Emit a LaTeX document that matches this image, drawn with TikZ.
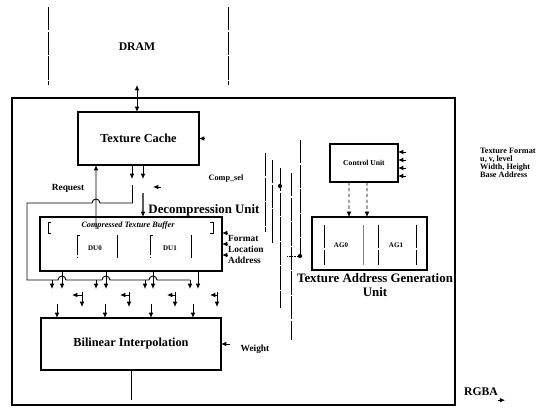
\documentclass[tikz,border=0pt]{standalone}
\usepackage{fontspec}
\setmainfont{Liberation Serif}
\usetikzlibrary{arrows.meta,calc}
\begin{document}
\begin{tikzpicture}[x=0.03cm,y=-0.03cm,
  lbl/.style={inner sep=0pt,font=\bfseries\fontsize{#1}{#1}\selectfont},
  lbl/.default=8,
  blk/.style={draw,line width=1.3pt,inner sep=0pt,outer sep=0pt},
  wire/.style={line width=0.8pt},
  arr/.style={wire,-{Latex[length=4.5pt,width=4pt]}},
  dbl/.style={wire,{Latex[length=4.5pt,width=4pt]}-{Latex[length=4.5pt,width=4pt]}},
  faint/.style={line width=0.4pt,dash pattern=on 20pt off 1pt}]
\useasboundingbox (0,0) rectangle (551,415);

% DRAM
\draw[faint] (48,7) -- (48,85);
\draw[faint] (228,7) -- (228,85);
\node[lbl=10] (dram) at (137,47) {DRAM};
\coordinate (dramport) at (137,85);

% chip outline
\node[draw,line width=1.7pt,inner sep=0pt,minimum width=13.29cm,minimum height=9.21cm] (chip) at (233.5,251.5) {};

% texture cache
\node[blk,lbl=10.5,minimum width=3.63cm,minimum height=1.59cm] (cache) at (138.5,138.5) {Texture Cache};
\draw[dbl] (dramport) -- (dramport |- cache.north);
\draw[arr] ($(cache.east)+(6,0)$) -- (cache.east);
\draw[arr] ($(cache.south)+(-6.5,0)$) -- ++(0,14);
\draw[arr] ($(cache.south)+(4.5,0)$) -- ++(0,14);
\draw[arr] (161,187) -- (153,187);
\node[lbl] (req) at (68,188) {Request};

% decompression unit
\node[blk,minimum width=5.46cm,minimum height=1.62cm] (decomp) at (131,244) {};
\node[lbl=11] (dulabel) at (204,210) {Decompression Unit};
\draw[arr,line width=1.1pt] ($(cache.south)+(4.5,28)$) -- ($(decomp.north west)+(103,0)$);
\draw[arr] ($(decomp.north west)+(56,12)$) -- ($(cache.south west)+(18,0)$);
\node[inner sep=0pt,font=\bfseries\itshape\fontsize{7}{7}\selectfont] (ctb) at ($(decomp.north)+(-3,8)$) {Compressed Texture Buffer};
\draw[wire] (51,222) -- (48,222) -- (48,233) -- (51,233);
\draw[wire] (210,222) -- (213,222) -- (213,233) -- (210,233);
\node[lbl=6] (du0) at (95,248) {DU0};
\node[lbl=6] (du1) at (170,248) {DU1};
\draw[faint] (80,235) -- (77,235) -- (77,258);
\draw[faint] (117,235) -- (117,258);
\draw[faint] (153,235) -- (150,235) -- (150,258);
\draw[faint] (191,235) -- (191,258);
\foreach \dy/\name/\lab in {16/fmt/Format,27/loc/Location,38/addr/Address} {
  \draw[arr] ($(decomp.north east)+(6,\dy)$) -- ++(-6,0);
  \node[lbl,anchor=west] (\name) at ($(decomp.north east)+(6,\dy+5)$) {\lab};
}

% bus round the buffer
\draw[wire] ($(cache.south)+(-6,20)$) -- ++(0,18) -- (100,203)
  arc[start angle=0,end angle=180,radius=3.4pt] -- (27,203) -- (27,280)
  -- (58,280) arc[start angle=180,end angle=0,radius=3.4pt]
  -- (102,280) arc[start angle=180,end angle=0,radius=3.4pt]
  -- (149,280) arc[start angle=180,end angle=0,radius=3.4pt]
  -- (190,280);
\draw[arr] (190,280) -- (190,289);
\foreach \x in {52,96,145}
  \draw[arr] (\x,280) -- (\x,289);
\foreach \dx in {22,66,113,158}
  \draw[arr] ($(decomp.south west)+(\dx,0)$) -- ++(0,18);

% selection row
\foreach \h/\b in {72/82,120/129,167/175,210/217} {
  \draw[arr] (\b,295) -- (\h,295);
  \draw[arr] (\b,292) -- (\b,307);
}

% bilinear interpolation
\node[blk,lbl=10.5,minimum width=5.4cm,minimum height=1.56cm] (bilin) at (131,344) {Bilinear Interpolation};
\foreach \dx in {16,64,110,152}
  \draw[arr] ($(bilin.north west)+(\dx,-14)$) -- ++(0,14);
\draw[arr] ($(bilin.east)+(9,0)$) -- (bilin.east);
\node[lbl] (weight) at (255,349) {Weight};
\draw[line width=0.4pt] (bilin.south) -- ++(0,30);

% comp_sel lines
\node[lbl=7] (compsel) at (226,179) {Comp\_sel};
\draw[faint] (265,153) -- (265,232);
\draw[faint] (272,160) -- (272,243);
\draw[wire] (272,228) -- (272,243);
\draw[faint] (280,168) -- (280,308);
\fill (280,186) circle (1.8pt);
\draw[faint] (291,173) -- (291,340);
\draw[faint] (300,140) -- (300,256);
\draw[line width=0.4pt,densely dotted] (287,256) -- (300,256);
\fill (300,256) circle (1.8pt);

% control unit
\node[blk,lbl=6.5,minimum width=2.04cm,minimum height=1.14cm] (ctrl) at (364,163) {Control Unit};
\foreach \dy in {8,16,24,32}
  \draw[arr] ($(ctrl.north east)+(8,\dy)$) -- ++(-8,0);
\node[inner sep=0pt,anchor=north west,align=left,font=\bfseries\fontsize{7}{6.8}\selectfont] (params) at (480,148) {Texture Format\\u, v, level\\Width, Height\\Base Address};

% address generation
\node[blk,minimum width=3.45cm,minimum height=1.59cm] (agu) at (369.5,243.5) {};
\draw[arr,densely dashed,line width=0.5pt] ($(ctrl.south west)+(19,0)$) -- ($(agu.north west)+(37,0)$);
\draw[arr,densely dashed,line width=0.5pt] ($(ctrl.south west)+(37,0)$) -- ($(agu.north west)+(55,0)$);
\node[lbl=6] (ag0) at (341,245) {AG0};
\node[lbl=6] (ag1) at (396,245) {AG1};
\draw[faint] (324,225) -- (324,265);
\draw[line width=0.6pt,gray] (363,225) -- (363,265);
\draw[faint] (378,225) -- (378,265);
\draw[faint] (416,225) -- (416,265);
\node[inner sep=0pt,align=center,font=\bfseries\fontsize{11}{12}\selectfont] (agulabel) at (375,285) {Texture Address Generation\\Unit};

% output
\node[lbl=10] (rgba) at (481,392) {RGBA};
\draw[arr] ($(rgba.south east)+(0,4)$) -- ++(7,0);
\end{tikzpicture}
\end{document}
